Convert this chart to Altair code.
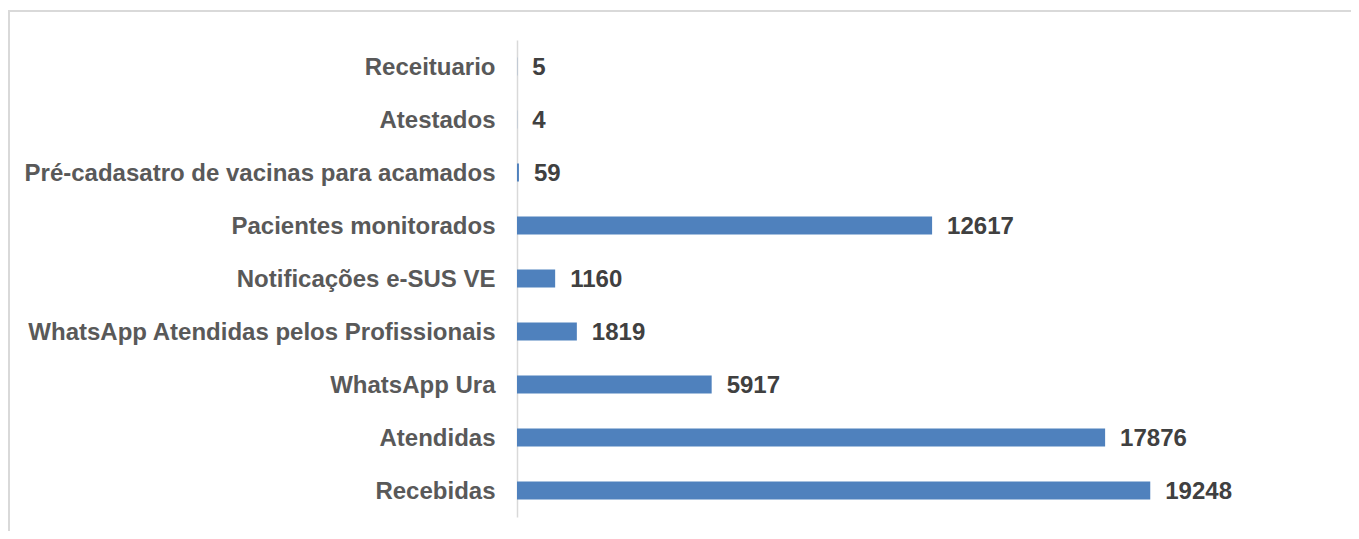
import altair as alt
import pandas as pd

categories = [
    "Receituario",
    "Atestados",
    "Pré-cadasatro de vacinas para acamados",
    "Pacientes monitorados",
    "Notificações e-SUS VE",
    "WhatsApp Atendidas pelos Profissionais",
    "WhatsApp Ura",
    "Atendidas",
    "Recebidas",
]
values = [5, 4, 59, 12617, 1160, 1819, 5917, 17876, 19248]

df = pd.DataFrame({"categoria": categories, "valor": values})

W = 658
H = 477
FONT = "Liberation Sans"

y_enc = alt.Y(
    "categoria:N",
    sort=categories,
    title=None,
    scale=alt.Scale(paddingInner=0.66, paddingOuter=0.33),
    axis=alt.Axis(
        labelFont=FONT,
        labelFontSize=24,
        labelFontWeight="bold",
        labelColor="#595959",
        labelPadding=22,
        labelOffset=1,
        ticks=False,
        domainColor="#D9D9D9",
        domainWidth=1.5,
        labelLimit=700,
    ),
)
x_enc = alt.X(
    "valor:Q",
    scale=alt.Scale(domain=[0, 20000], nice=False),
    axis=None,
)

bars = alt.Chart(df).mark_bar(color="#4F81BD").encode(x=x_enc, y=y_enc)

labels = alt.Chart(df).mark_text(
    align="left",
    baseline="middle",
    dx=15,
    dy=1,
    font=FONT,
    fontSize=24,
    fontWeight="bold",
    color="#404040",
).encode(x=x_enc, y=alt.Y("categoria:N", sort=categories), text="valor:Q")

frame_top = alt.Chart(df).mark_rule(color="#D9D9D9", strokeWidth=2, clip=False).encode(
    x=alt.value(-509), x2=alt.value(W + 300), y=alt.value(-29)
)
frame_left = alt.Chart(df).mark_rule(color="#D9D9D9", strokeWidth=2, clip=False).encode(
    x=alt.value(-508), y=alt.value(-30), y2=alt.value(H + 60)
)

chart = (
    alt.layer(frame_top, frame_left, bars, labels)
    .properties(
        width=W,
        height=H,
        autosize=alt.AutoSizeParams(type="none"),
        padding={"left": 509, "top": 32, "right": 176, "bottom": 14},
        background="white",
    )
    .configure_view(strokeWidth=0, stroke="transparent")
)

chart.save("out.html", embed_options={"renderer": "svg", "actions": False})
